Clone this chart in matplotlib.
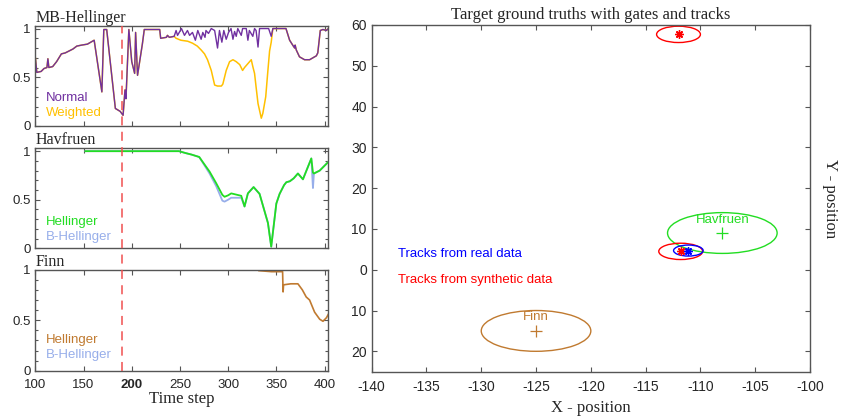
import matplotlib
matplotlib.use("Agg")
import matplotlib.pyplot as plt
import matplotlib.transforms as mtransforms
from matplotlib.lines import Line2D
from matplotlib.patches import Ellipse
from matplotlib.ticker import MultipleLocator

SERIF = "Liberation Serif"
SANS = "Liberation Sans"
plt.rcParams["font.family"] = SANS
plt.rcParams["axes.unicode_minus"] = False

# ---- MB-Hellinger panel ----------------------------------------------------
mb_shared_t = [100, 101.5, 106, 109, 112, 113, 114, 118, 122, 127, 131, 135, 139,
               143, 148, 154, 161, 169, 171, 174, 183, 188, 191, 193, 194, 197,
               200, 203, 204, 206, 211, 213, 219, 229, 230, 236, 237, 239, 244]
mb_shared_v = [0.70, 0.55, 0.56, 0.59, 0.60, 0.69, 0.60, 0.61, 0.66, 0.74, 0.75,
               0.77, 0.79, 0.82, 0.83, 0.84, 0.88, 0.35, 0.99, 0.99, 0.18, 0.15,
               0.11, 0.37, 0.28, 0.99, 0.66, 0.54, 0.96, 0.52, 0.84, 0.99, 0.99,
               0.99, 0.90, 0.91, 0.93, 0.91, 0.92]
normal_t = [246, 247.5, 251.6, 254.7, 257.8, 260, 263, 266, 268.5, 272, 273.7,
            276, 277, 279.6, 282.5, 286, 289, 291, 293.5, 295.5, 298, 300.4, 303,
            305, 306.7, 308.4, 310, 313.6, 315, 318.8, 320.5, 322, 325.6, 327.4,
            329, 331, 332.6, 337, 342, 344.7]
normal_v = [0.98, 0.93, 1.0, 0.93, 0.98, 0.93, 0.96, 0.88, 0.98, 0.89, 0.96, 0.91,
            0.98, 0.95, 1.0, 0.98, 0.80, 0.98, 0.86, 0.98, 0.89, 0.96, 1.0, 0.89,
            0.97, 0.92, 1.0, 0.93, 1.0, 1.0, 0.88, 0.98, 0.92, 1.0, 0.98, 0.81,
            1.0, 1.0, 1.0, 0.92]
weighted_t = [246, 251, 258, 263, 268, 272, 275.5, 278.6, 282.5, 286, 289, 293,
              294.5, 298, 301.5, 305, 308.4, 312, 315, 317, 320.5, 324, 325.6,
              327.4, 329, 331, 334.4, 336, 339, 341, 343, 344.7]
weighted_v = [0.90, 0.88, 0.87, 0.85, 0.82, 0.78, 0.74, 0.68, 0.57, 0.42, 0.41,
              0.41, 0.43, 0.57, 0.66, 0.68, 0.66, 0.63, 0.57, 0.60, 0.64, 0.68,
              0.61, 0.54, 0.40, 0.23, 0.08, 0.13, 0.30, 0.54, 0.77, 0.86]
mb_end_t = [346.4, 360, 363.8, 367, 369, 369.5, 370.7, 374, 379.3, 381, 384.5,
            388, 391.5, 393, 395.6, 398.3, 402, 404]
mb_end_v = [1.0, 1.0, 0.88, 0.83, 0.80, 0.83, 0.78, 0.71, 0.68, 0.68, 0.68, 0.70,
            0.72, 0.75, 0.98, 0.99, 0.98, 1.0]

# ---- Havfruen panel --------------------------------------------------------
hav_t = [152, 249, 256, 262, 270, 280.7, 287.6, 294, 296.3, 300, 303.2, 313.6,
         317, 320.5, 326.4, 332.6, 341.3, 344.7, 350, 353.4, 358, 360.4, 364,
         368, 372.4, 377.6, 386.3, 388, 389, 395, 404]
hav_hell = [1.0, 1.0, 0.98, 0.965, 0.94, 0.79, 0.67, 0.55, 0.53, 0.545, 0.565,
            0.54, 0.43, 0.565, 0.63, 0.56, 0.26, 0.016, 0.46, 0.56, 0.65, 0.68,
            0.69, 0.72, 0.77, 0.71, 0.925, 0.78, 0.77, 0.80, 0.89]
hav_bhell = [1.0, 1.0, 0.98, 0.965, 0.94, 0.77, 0.64, 0.49, 0.48, 0.50, 0.52,
             0.52, 0.43, 0.565, 0.63, 0.56, 0.26, 0.016, 0.46, 0.56, 0.65, 0.68,
             0.69, 0.72, 0.77, 0.71, 0.925, 0.62, 0.77, 0.80, 0.89]

# ---- Finn panel ------------------------------------------------------------
finn_t = [332, 345, 356.5, 357, 357.5, 365, 372.4, 377, 381, 384.5, 389.7, 395,
          398.4, 402, 404]
finn_hell = [0.99, 0.98, 0.98, 0.78, 0.85, 0.86, 0.86, 0.80, 0.73, 0.70, 0.58,
             0.51, 0.49, 0.525, 0.56]

switch_step = 190

# ---- Ground truth / gates / tracks ----------------------------------------
target_names = ["Havfruen", "Finn"]
target_x = [-108, -125]
target_y = [9, -15]
target_gate = [5, 5]
target_colors = ["#22DD22", "#C07A30"]
real_x = [-111.1]
real_y = [4.7]
real_gate = [1.35]
synth_x = [-112.0, -111.8]
synth_y = [57.7, 4.5]
synth_gate = [2.0, 2.0]

PURPLE = "#7030A0"
YELLOW = "#FFC000"
GREEN = "#22DD22"
LBLUE = "#97AEEA"
BROWN = "#C07A30"
SPINE = "#555555"
TXT = "#262626"

fig = plt.figure(figsize=(8.42, 4.2), dpi=100)
fig.patch.set_facecolor("white")

lw_ax = 0.042
w_ax = 0.348
ax1 = fig.add_axes([lw_ax, 0.700, w_ax, 0.239])
ax2 = fig.add_axes([lw_ax, 0.409, w_ax, 0.238])
ax3 = fig.add_axes([lw_ax, 0.117, w_ax, 0.241])
axr = fig.add_axes([0.4414, 0.115, 0.5206, 0.8255])


def style(ax, size=9.5):
    for s in ax.spines.values():
        s.set_color(SPINE)
        s.set_linewidth(1.0)
    ax.tick_params(direction="in", which="both", top=True, right=True,
                   color=SPINE, labelsize=size, labelcolor=TXT)
    ax.tick_params(which="major", length=3.5, width=0.8)
    ax.tick_params(which="minor", length=2.5, width=0.8)
    ax.tick_params(axis="x", pad=6)


for ax, top, name in [(ax1, 1.03, "MB-Hellinger"), (ax2, 1.03, "Havfruen"),
                      (ax3, 1.0, "Finn")]:
    ax.set_xlim(100, 404)
    ax.set_ylim(0, top)
    ax.set_yticks([0, 0.5, 1])
    ax.set_yticklabels(["0", "0.5", "1"])
    ax.yaxis.set_minor_locator(MultipleLocator(0.1))
    ax.set_xticks([100, 150, 200, 250, 300, 350, 400])
    style(ax)
    ax.set_title(name, loc="left", family=SERIF, fontsize=11.5, pad=2.5,
                 color=TXT)

ax1.tick_params(labelbottom=False)
ax2.tick_params(labelbottom=False)

ax1.plot(mb_shared_t + weighted_t + mb_end_t, mb_shared_v + weighted_v + mb_end_v,
         color=YELLOW, lw=1.1)
ax1.plot(mb_shared_t + normal_t + mb_end_t, mb_shared_v + normal_v + mb_end_v,
         color=PURPLE, lw=1.0)
ax1.text(0.036, 0.276, "Normal", color=PURPLE, fontsize=9.5,
         transform=ax1.transAxes, va="center")
ax1.text(0.036, 0.127, "Weighted", color=YELLOW, fontsize=9.5,
         transform=ax1.transAxes, va="center")

ax2.plot(hav_t, hav_bhell, color=LBLUE, lw=1.3)
ax2.plot(hav_t, hav_hell, color=GREEN, lw=1.3)
ax2.text(0.036, 0.266, "Hellinger", color=GREEN, fontsize=9.5,
         transform=ax2.transAxes, va="center")
ax2.text(0.036, 0.116, "B-Hellinger", color=LBLUE, fontsize=9.5,
         transform=ax2.transAxes, va="center")

ax3.plot(finn_t, finn_hell, color=BROWN, lw=1.2)
ax3.text(0.036, 0.306, "Hellinger", color=BROWN, fontsize=9.5,
         transform=ax3.transAxes, va="center")
ax3.text(0.036, 0.158, "B-Hellinger", color=LBLUE, fontsize=9.5,
         transform=ax3.transAxes, va="center")
ax3.set_xlabel("Time step", family=SERIF, fontsize=12, labelpad=0, color=TXT)
for lab in ax3.get_xticklabels():
    if lab.get_text() == "200":
        lab.set_fontweight("bold")

# dashed switch line running through all three panels
trans = mtransforms.blended_transform_factory(ax3.transData, fig.transFigure)
y_bot = ax3.get_position().y0
y_top = ax1.get_position().y1
fig.add_artist(Line2D([switch_step, switch_step], [y_bot, y_top], transform=trans,
                      color="#F05050", lw=1.3, ls=(0, (5, 3.5)), alpha=0.85))

# ---- right panel -----------------------------------------------------------
axr.set_xlim(-140, -100)
axr.set_ylim(-25, 60)
axr.set_xticks(list(range(-140, -99, 5)))
yt = list(range(-20, 61, 10))
axr.set_yticks(yt)
axr.set_yticklabels([str(abs(v)) for v in yt])
style(axr, size=10)
axr.set_title("Target ground truths with gates and tracks", family=SERIF,
              fontsize=12, pad=4, color=TXT)
axr.set_xlabel("X - position", family=SERIF, fontsize=12, labelpad=4, color=TXT)
axr.yaxis.set_label_position("right")
axr.set_ylabel("Y - position", family=SERIF, fontsize=12, rotation=270,
               labelpad=20, color=TXT)

for name, x, y, r, c in zip(target_names, target_x, target_y, target_gate,
                            target_colors):
    axr.add_patch(Ellipse((x, y), 2 * r, 2 * r, fill=False, edgecolor=c, lw=1.0))
    axr.plot(x, y, marker="+", color=c, ms=8, mew=0.9)
    axr.text(x, y + 3.3, name, color=c, ha="center", va="center", fontsize=9.5)

for x, y, r in zip(synth_x, synth_y, synth_gate):
    axr.add_patch(Ellipse((x, y), 2 * r, 2 * r, fill=False, edgecolor="#FF0000",
                          lw=1.0))
    axr.plot(x, y, marker=(8, 2, 0), color="#FF0000", ms=6, mew=1.0)

for x, y, r in zip(real_x, real_y, real_gate):
    axr.add_patch(Ellipse((x, y), 2 * r, 2 * r, fill=False, edgecolor="#0000FF",
                          lw=1.0))
    axr.plot(x, y, marker=(8, 2, 0), color="#0000FF", ms=6, mew=1.0)

axr.text(-137.6, 3.9, "Tracks from real data", color="#0000FF", fontsize=9.5,
         va="center")
axr.text(-137.6, -2.4, "Tracks from synthetic data", color="#FF0000",
         fontsize=9.5, va="center")

fig.savefig("out.png", dpi=100, facecolor="white")
